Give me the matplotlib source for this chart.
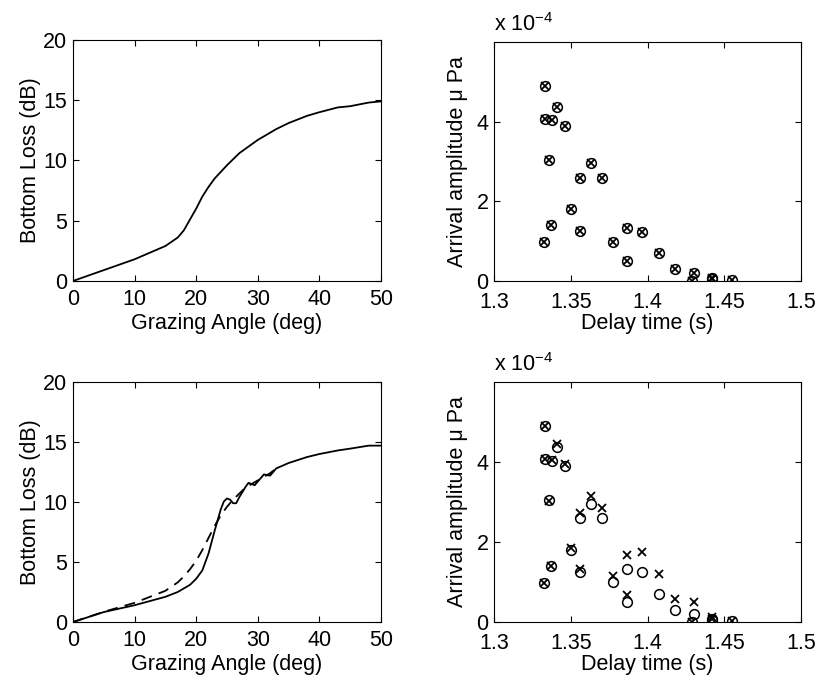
import matplotlib
matplotlib.use("Agg")
import matplotlib.pyplot as plt
import numpy as np

plt.rcParams['font.family'] = ['Liberation Sans', 'DejaVu Sans']
plt.rcParams['font.size'] = 15.5

# bottom loss curves (grazing angle in deg, loss in dB)
angle_top = [0, 5, 10, 15, 17, 18, 19, 20, 21, 22, 23, 25, 27, 30, 33, 35, 38, 40, 43, 45, 48, 50]
loss_top = [0, 0.9, 1.8, 2.9, 3.6, 4.2, 5.1, 6.0, 7.0, 7.8, 8.5, 9.6, 10.6, 11.7, 12.6, 13.1,
            13.7, 14.0, 14.4, 14.5, 14.8, 14.9]

angle_bot = [0, 5, 10, 15, 17, 18, 19, 20, 21, 22, 23, 24, 24.5, 25, 25.5, 26, 26.5, 27, 28,
             28.5, 29, 29.5, 30, 31, 32, 33, 35, 38, 40, 43, 45, 48, 50]
loss_bot = [0, 0.83, 1.4, 2.1, 2.5, 2.8, 3.1, 3.6, 4.3, 5.7, 7.6, 9.4, 10.05, 10.3, 10.2, 9.9,
            9.9, 10.4, 11.25, 11.6, 11.5, 11.4, 11.7, 12.3, 12.2, 12.8, 13.25, 13.75, 14.0,
            14.3, 14.45, 14.7, 14.7]

angle_dash = [0, 5, 10, 15, 17, 18, 19, 20, 21, 22, 23, 24, 25, 26, 27, 28, 30, 32, 33]
loss_dash = [0, 0.85, 1.6, 2.6, 3.3, 3.8, 4.4, 5.1, 6.0, 7.0, 8.0, 8.9, 9.6, 10.2, 10.7, 11.2,
             11.8, 12.4, 12.8]

# arrivals: delay (s), amplitude (x 1e-4 uPa)
delay = [1.3330, 1.3335, 1.3380, 1.3413, 1.3461, 1.3357, 1.3563, 1.3630, 1.3704, 1.3502,
         1.3374, 1.3557, 1.3326, 1.3778, 1.3867, 1.3965, 1.3865, 1.4074, 1.4178, 1.4302,
         1.4291, 1.4422, 1.4422, 1.4552]
amp_data = [4.90, 4.07, 4.03, 4.37, 3.90, 3.04, 2.59, 2.96, 2.59, 1.80, 1.40, 1.26, 0.98, 0.99,
            1.33, 1.24, 0.50, 0.71, 0.29, 0.21, 0.01, 0.08, 0.04, 0.02]
amp_model_top = amp_data
amp_model_bot = [4.90, 4.07, 4.05, 4.45, 3.95, 3.02, 2.73, 3.15, 2.86, 1.86, 1.40, 1.33, 0.98,
                 1.15, 1.67, 1.75, 0.67, 1.19, 0.58, 0.50, 0.01, 0.12, 0.08, 0.02]

fig = plt.figure(figsize=(8.18, 6.81), dpi=100)
ax_tl = fig.add_axes([0.0892, 0.5874, 0.3765, 0.354])
ax_tr = fig.add_axes([0.604, 0.5874, 0.3753, 0.351])
ax_bl = fig.add_axes([0.0892, 0.0866, 0.3765, 0.3524])
ax_br = fig.add_axes([0.604, 0.0866, 0.3753, 0.3524])


def style(ax, xpad=6):
    ax.tick_params(direction='in', top=True, right=True, length=4, width=0.8)
    ax.tick_params(axis='x', pad=xpad)
    ax.tick_params(axis='y', pad=4)
    for s in ax.spines.values():
        s.set_linewidth(0.8)


for ax in (ax_tl, ax_bl):
    ax.set_xlim(0, 50)
    ax.set_ylim(0, 20)
    ax.set_xticks([0, 10, 20, 30, 40, 50])
    ax.set_yticks([0, 5, 10, 15, 20])
    ax.set_xlabel('Grazing Angle (deg)', labelpad=2)
    ax.set_ylabel('Bottom Loss (dB)', labelpad=2)
    style(ax)

ax_tl.plot(angle_top, loss_top, color='black', lw=1.3)
ax_bl.plot(angle_dash, loss_dash, color='black', lw=1.3, ls=(0, (6, 4)))
ax_bl.plot(angle_bot, loss_bot, color='black', lw=1.3)

for ax, model in ((ax_tr, amp_model_top), (ax_br, amp_model_bot)):
    ax.plot(delay, amp_data, 'o', mfc='none', mec='black', ms=7, mew=1.1)
    ax.plot(delay, model, 'x', color='black', ms=6, mew=1.3)
    ax.set_xlim(1.3, 1.5)
    ax.set_ylim(0, 6)
    ax.set_xticks([1.3, 1.35, 1.4, 1.45, 1.5])
    ax.set_xticklabels(['1.3', '1.35', '1.4', '1.45', '1.5'])
    ax.set_yticks([0, 2, 4])
    ax.set_xlabel('Delay time (s)', labelpad=0)
    ax.set_ylabel('Arrival amplitude \u03bc Pa', labelpad=6)
    ax.text(0.0, 1.025, r'x 10$^{\mathregular{-4}}$', transform=ax.transAxes,
            ha='left', va='bottom')
    style(ax, xpad=8)

fig.savefig('out.png', dpi=100)
